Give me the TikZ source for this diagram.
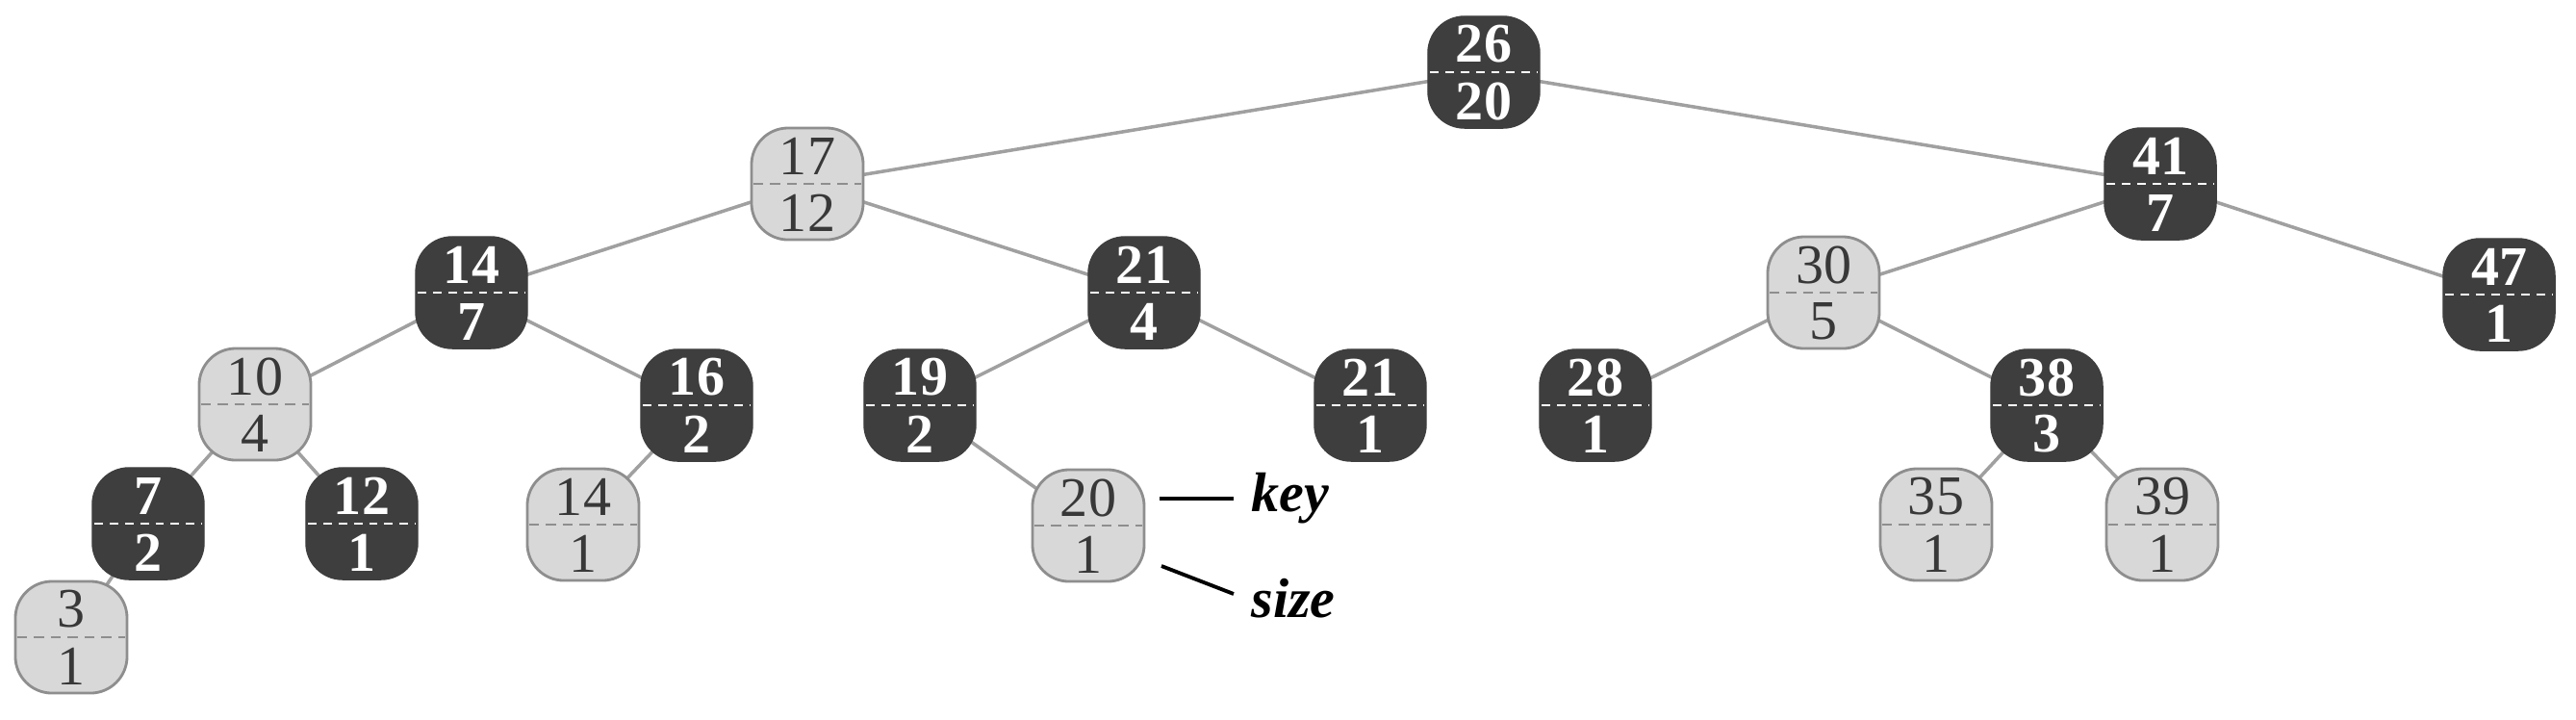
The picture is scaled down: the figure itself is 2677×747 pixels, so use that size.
\documentclass[tikz,border=0pt]{standalone}
\usepackage{fontspec}
\setmainfont{Liberation Serif}
\usetikzlibrary{backgrounds}
\definecolor{darkfill}{HTML}{3E3E3E}
\definecolor{ltfill}{HTML}{D8D8D8}
\definecolor{ltborder}{HTML}{8E8E8E}
\definecolor{lttext}{HTML}{383838}
\definecolor{edgecol}{HTML}{A0A0A0}
\tikzset{
  boxbase/.style={rounded corners=0.38cm, minimum width=1.16cm, minimum height=1.16cm, inner sep=0pt},
  dkbox/.style={boxbase, draw=darkfill, fill=darkfill},
  ltbox/.style={boxbase, draw=ltborder, fill=ltfill, line width=0.8pt},
  dktxt/.style={inner sep=0pt, text=white, font=\fontsize{16.5}{17}\selectfont\bfseries},
  lttxt/.style={inner sep=0pt, text=lttext, font=\fontsize{16.5}{17}\selectfont},
  dkdiv/.style={white, line width=0.8pt, dash pattern=on 2.5pt off 2pt},
  ltdiv/.style={ltborder, line width=0.8pt, dash pattern=on 3pt off 2pt},
  edge/.style={edgecol, line width=1pt},
  annot/.style={inner sep=0pt, font=\fontsize{16.5}{18}\selectfont\bfseries\itshape},
  annotline/.style={black, line width=1.1pt},
}
\newcommand{\rbnode}[6]{%
  \node[#2box] (#1) at (#3,#4) {};
  \draw[#2div] ([xshift=0.03cm]#1.west) -- ([xshift=-0.03cm]#1.east);
  \node[#2txt] (#1k) at ([yshift=0.29cm]#1.center) {#5};
  \node[#2txt] (#1s) at ([yshift=-0.30cm]#1.center) {#6};
}
\begin{document}
\begin{tikzpicture}[x=0.01cm, y=-0.01cm]
\useasboundingbox (0,0) rectangle (2677,747);
% level 0
\rbnode{n26}{dk}{1542}{75}{26}{20}
% level 1
\rbnode{n17}{lt}{839}{191}{17}{12}
\rbnode{n41}{dk}{2245}{191}{41}{7}
% level 2
\rbnode{n14}{dk}{490}{304}{14}{7}
\rbnode{n21a}{dk}{1189}{304}{21}{4}
\rbnode{n30}{lt}{1895}{304}{30}{5}
\rbnode{n47}{dk}{2597}{306}{47}{1}
% level 3
\rbnode{n10}{lt}{265}{420}{10}{4}
\rbnode{n16}{dk}{724}{421}{16}{2}
\rbnode{n19}{dk}{956}{421}{19}{2}
\rbnode{n21b}{dk}{1424}{421}{21}{1}
\rbnode{n28}{dk}{1658}{421}{28}{1}
\rbnode{n38}{dk}{2127}{421}{38}{3}
% level 4
\rbnode{n7}{dk}{154}{544}{7}{2}
\rbnode{n12}{dk}{376}{544}{12}{1}
\rbnode{n14b}{lt}{606}{545}{14}{1}
\rbnode{n20}{lt}{1131}{546}{20}{1}
\rbnode{n35}{lt}{2012}{545}{35}{1}
\rbnode{n39}{lt}{2247}{545}{39}{1}
% level 5
\rbnode{n3}{lt}{74}{662}{3}{1}
% annotations
\coordinate (keyA) at (1205,518);
\coordinate (sizeA) at (1207,588);
\node[annot, anchor=west] (keylbl) at (1300,518) {key};
\node[annot, anchor=west] (sizelbl) at (1300,622) {size};
\draw[annotline] (keyA) -- ([xshift=-0.18cm]keylbl.west);
\draw[annotline] (sizeA) -- ([xshift=-0.18cm,yshift=0.05cm]sizelbl.west);
\begin{scope}[on background layer]
  \fill[white] (0,0) rectangle (2677,747);
  \draw[edge] (n26.center) -- (n17.center);
  \draw[edge] (n26.center) -- (n41.center);
  \draw[edge] (n17.center) -- (n14.center);
  \draw[edge] (n17.center) -- (n21a.center);
  \draw[edge] (n41.center) -- (n30.center);
  \draw[edge] (n41.center) -- (n47.center);
  \draw[edge] (n14.center) -- (n10.center);
  \draw[edge] (n14.center) -- (n16.center);
  \draw[edge] (n21a.center) -- (n19.center);
  \draw[edge] (n21a.center) -- (n21b.center);
  \draw[edge] (n30.center) -- (n28.center);
  \draw[edge] (n30.center) -- (n38.center);
  \draw[edge] (n10.center) -- (n7.center);
  \draw[edge] (n10.center) -- (n12.center);
  \draw[edge] (n16.center) -- (n14b.center);
  \draw[edge] (n19.center) -- (n20.center);
  \draw[edge] (n38.center) -- (n35.center);
  \draw[edge] (n38.center) -- (n39.center);
  \draw[edge] (n7.center) -- (n3.center);
\end{scope}
\end{tikzpicture}
\end{document}
